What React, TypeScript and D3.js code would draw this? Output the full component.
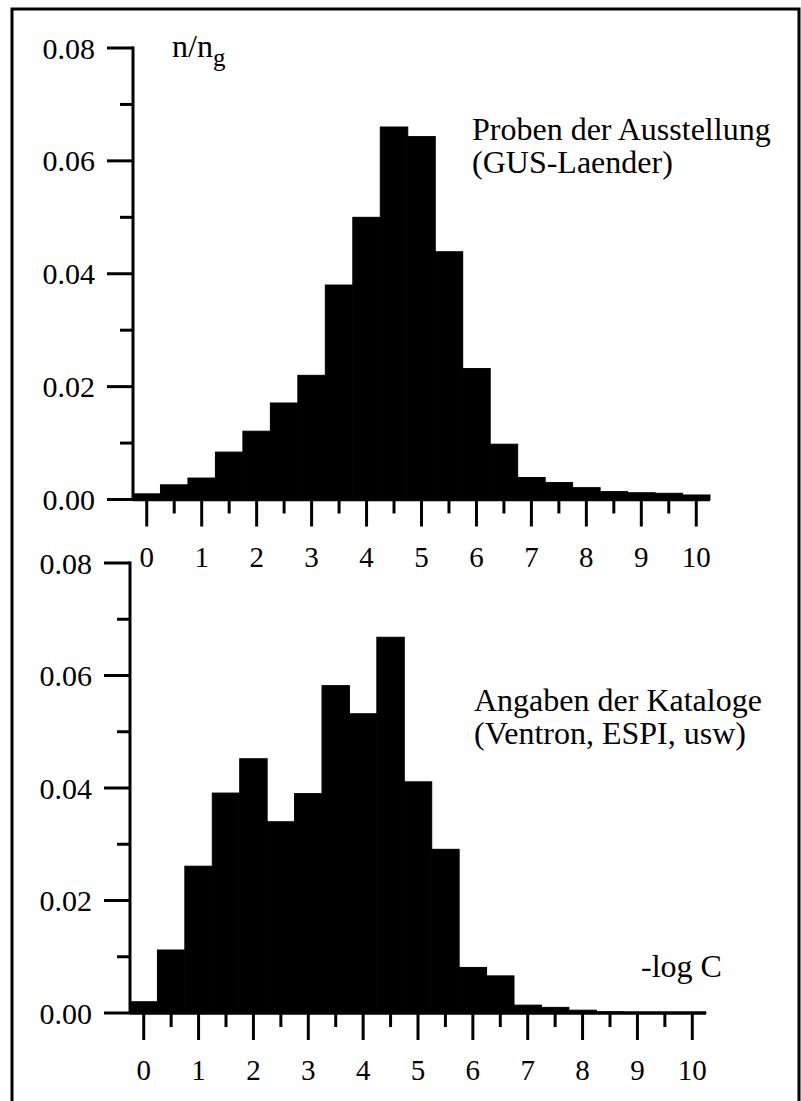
import React, { useEffect, useRef } from "react";
import * as d3 from "d3";

/* bin centres (-log C), width 0.5 */
const bins = [0, 0.5, 1, 1.5, 2, 2.5, 3, 3.5, 4, 4.5, 5, 5.5, 6, 6.5, 7, 7.5, 8, 8.5, 9, 9.5, 10];

/* Proben der Ausstellung (GUS-Laender) */
const probenValues = [
  0.001, 0.0026, 0.0038, 0.0084, 0.0121, 0.0171, 0.022, 0.038, 0.05, 0.066, 0.0643,
  0.0439, 0.0232, 0.0098, 0.0039, 0.003, 0.0021, 0.0014, 0.0012, 0.0011, 0.0008,
];

/* Angaben der Kataloge (Ventron, ESPI, usw) */
const katalogValues = [
  0.002, 0.0112, 0.0261, 0.0391, 0.0452, 0.034, 0.039, 0.0582, 0.0532, 0.0668, 0.0411,
  0.0291, 0.0081, 0.0066, 0.0014, 0.001, 0.0005, 0.0002, 0.0001, 0.0001, 0.0001,
];

const xTicks = [0, 1, 2, 3, 4, 5, 6, 7, 8, 9, 10];
const xMinorTicks = [0.5, 1.5, 2.5, 3.5, 4.5, 5.5, 6.5, 7.5, 8.5, 9.5];
const yTicks = [0, 0.02, 0.04, 0.06, 0.08];
const yMinorTicks = [0.01, 0.03, 0.05, 0.07];

const topLabel = ["Proben der Ausstellung", "(GUS-Laender)"];
const bottomLabel = ["Angaben der Kataloge", "(Ventron, ESPI, usw)"];

const fontFamily = "'Liberation Serif', 'Times New Roman', serif";

const App = () => {
  const ref = useRef<SVGSVGElement | null>(null);

  useEffect(() => {
    const svg = d3.select(ref.current);
    svg.selectAll("*").remove();

    /* outer frame */
    svg
      .append("rect")
      .attr("x", 12)
      .attr("y", 9)
      .attr("width", 787)
      .attr("height", 1110)
      .attr("fill", "none")
      .attr("stroke", "#000")
      .attr("stroke-width", 3);

    const drawPanel = (opts: any) => {
      const { values, xRange, yRange, label, labelX, labelY } = opts;
      const g = svg.append("g");

      const x = d3.scaleLinear().domain([-0.25, 10.25]).range(xRange);
      const y = d3.scaleLinear().domain([0, 0.08]).range(yRange);
      const axisX = xRange[0];

      /* bars - stroked so neighbours merge like the print */
      g.append("g")
        .selectAll("rect")
        .data(bins)
        .join("rect")
        .attr("x", (d: number) => x(d - 0.25))
        .attr("width", (d: number) => x(d + 0.25) - x(d - 0.25))
        .attr("y", (d: number, i: number) => y(values[i]))
        .attr("height", (d: number, i: number) => y(0) - y(values[i]))
        .attr("fill", "#000")
        .attr("stroke", "#000")
        .attr("stroke-width", 1);

      /* y axis */
      g.append("line")
        .attr("x1", axisX)
        .attr("x2", axisX)
        .attr("y1", y(0.08) - 1.5)
        .attr("y2", y(0))
        .attr("stroke", "#000")
        .attr("stroke-width", 3);

      g.append("g")
        .selectAll("line")
        .data(yTicks)
        .join("line")
        .attr("x1", axisX - 26)
        .attr("x2", axisX)
        .attr("y1", (d: number) => y(d))
        .attr("y2", (d: number) => y(d))
        .attr("stroke", "#000")
        .attr("stroke-width", 3);

      g.append("g")
        .selectAll("line")
        .data(yMinorTicks)
        .join("line")
        .attr("x1", axisX - 13)
        .attr("x2", axisX)
        .attr("y1", (d: number) => y(d))
        .attr("y2", (d: number) => y(d))
        .attr("stroke", "#000")
        .attr("stroke-width", 3);

      g.append("g")
        .selectAll("text")
        .data(yTicks)
        .join("text")
        .text((d: number) => d3.format(".2f")(d))
        .attr("x", axisX - 38)
        .attr("y", (d: number) => y(d))
        .attr("dy", "0.35em")
        .attr("text-anchor", "end")
        .attr("font-family", fontFamily)
        .attr("font-size", 30)
        .attr("fill", "#000");

      /* x axis */
      g.append("line")
        .attr("x1", axisX)
        .attr("x2", x(10.25))
        .attr("y1", y(0))
        .attr("y2", y(0))
        .attr("stroke", "#000")
        .attr("stroke-width", 3.5);

      g.append("g")
        .selectAll("line")
        .data(xTicks)
        .join("line")
        .attr("x1", (d: number) => x(d))
        .attr("x2", (d: number) => x(d))
        .attr("y1", y(0))
        .attr("y2", y(0) + 27)
        .attr("stroke", "#000")
        .attr("stroke-width", 3);

      g.append("g")
        .selectAll("line")
        .data(xMinorTicks)
        .join("line")
        .attr("x1", (d: number) => x(d))
        .attr("x2", (d: number) => x(d))
        .attr("y1", y(0))
        .attr("y2", y(0) + 14)
        .attr("stroke", "#000")
        .attr("stroke-width", 3);

      g.append("g")
        .selectAll("text")
        .data(xTicks)
        .join("text")
        .text((d: number) => d)
        .attr("x", (d: number) => x(d))
        .attr("y", y(0) + 67)
        .attr("text-anchor", "middle")
        .attr("font-family", fontFamily)
        .attr("font-size", 29)
        .attr("fill", "#000");

      /* series label, two lines */
      g.append("g")
        .selectAll("text")
        .data(label)
        .join("text")
        .text((d: string) => d)
        .attr("x", labelX)
        .attr("y", (d: string, i: number) => labelY + i * 33)
        .attr("font-family", fontFamily)
        .attr("font-size", 32)
        .attr("fill", "#000");
    };

    drawPanel({
      values: probenValues,
      xRange: [133, 710],
      yRange: [499.5, 48],
      label: topLabel,
      labelX: 472,
      labelY: 140,
    });

    drawPanel({
      values: katalogValues,
      xRange: [130, 706],
      yRange: [1013, 563],
      label: bottomLabel,
      labelX: 474,
      labelY: 711,
    });

    /* y axis title n/n_g */
    const yTitle = svg
      .append("text")
      .attr("x", 172)
      .attr("y", 57)
      .attr("font-family", fontFamily)
      .attr("font-size", 32)
      .attr("fill", "#000");
    yTitle.append("tspan").text("n/n");
    yTitle.append("tspan").text("g").attr("font-size", 25).attr("dy", 9);

    /* x axis title */
    svg
      .append("text")
      .text("-log C")
      .attr("x", 641)
      .attr("y", 977)
      .attr("font-family", fontFamily)
      .attr("font-size", 32)
      .attr("fill", "#000");
  }, []);

  return (
    <svg
      ref={ref}
      width={801}
      height={1101}
      style={{ position: "absolute", left: 0, top: 0, background: "#fff" }}
    />
  );
};

export default App;
